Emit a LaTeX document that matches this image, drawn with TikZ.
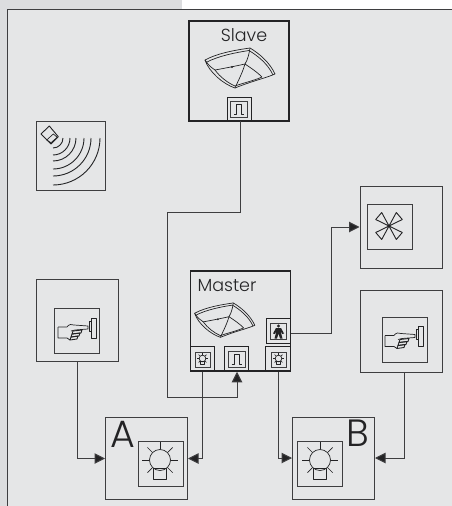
\documentclass[tikz,border=0pt]{standalone}
\usepackage{fontspec}
\setmainfont{Poppins Light}
\usepackage{xcolor}
\usetikzlibrary{arrows.meta,calc}
\definecolor{panelgrey}{RGB}{229,230,231}
\definecolor{stripgrey}{RGB}{220,221,223}
\definecolor{edgegrey}{RGB}{62,62,64}
\definecolor{inkdark}{RGB}{35,35,37}

\tikzset{
    outerbox/.style={draw=edgegrey,line width=1pt,minimum size=82pt,inner sep=0pt},
    unitbox/.style={draw=inkdark,line width=1.5pt,minimum size=100pt,inner sep=0pt},
    iconbox/.style={draw=edgegrey,line width=0.9pt,minimum size=45pt,inner sep=0pt},
    tinybox/.style={draw=inkdark,line width=0.9pt,minimum size=24.5pt,inner sep=0pt},
    wire/.style={draw=edgegrey,line width=1pt},
    tipped/.style={wire,-{Triangle[length=10.5pt,width=10.5pt,fill=inkdark]}},
    icon/.style={draw=inkdark,line width=0.7pt,line join=round},
    caption/.style={inkdark,inner sep=0pt,font=\fontsize{17.5}{18}\selectfont},
    letter/.style={inkdark,inner sep=0pt,font=\fontsize{38}{38}\selectfont},
}

% lamp with rays, centre and radius
\newcommand{\lampicon}[2]{%
    \begin{scope}[shift={(#1)},scale=#2]
        \draw[icon] (0,0) circle (1);
        \draw[icon] (-0.6,0.78) rectangle (0.6,1.8);
        \foreach \a in {0,45,135,180,225,315,270}
            \draw[icon] (\a:1.05) -- (\a:1.7);
    \end{scope}}
% pulse symbol
\newcommand{\pulseicon}[1]{%
    \begin{scope}[shift={(#1)}]
        \draw[draw=edgegrey,line width=1pt] (-8.5,-8) rectangle (8.5,8);
        \draw[icon,line width=0.9pt] (-5,5) -- (-2.5,5) -- (-2.5,-4.5) -- (2.5,-4.5) -- (2.5,5) -- (5,5);
    \end{scope}}
% ceiling sensor
\newcommand{\domeicon}[2]{%
    \begin{scope}[shift={(#1)},scale=#2]
        \draw[icon] (-33,-9) .. controls (-20,-16) and (-2,-19) .. (12,-21)
            .. controls (22,-15) and (32,-6) .. (37,5)
            .. controls (28,9) and (14,12) .. (-3,19)
            .. controls (-15,15) and (-29,3) .. (-33,-9) -- cycle;
        \draw[icon] (-32,-6.5) .. controls (-20,-13) and (-2,-16.5) .. (11,-18.5)
            .. controls (20,-13) and (30,-5) .. (35,6);
        \draw[icon] (-23,1) .. controls (-12,-1) and (-2,-3) .. (7,-5)
            .. controls (10,-10) and (11,-15) .. (12,-21);
        \draw[icon] (7,-5) .. controls (4,5) and (0,12) .. (-3,19);
        \draw[icon] (7,-5) .. controls (13,-1) and (19,3) .. (24,8);
        \draw[icon] (-33,-9) .. controls (-29,-3) and (-26,-1) .. (-23,1)
            .. controls (-18,8) and (-10,14) .. (-3,17) .. controls (5,14) and (15,12) .. (24,8);
        \fill[inkdark] (-6,-2) circle (1.2);
    \end{scope}}
% hand pressing wall switch
\newcommand{\handicon}[1]{%
    \begin{scope}[shift={(#1)}]
        \draw[icon] (-18,-3) -- (-9,-3) .. controls (-7,-6) and (-4,-6) .. (-2,-5)
            -- (12,-4) -- (12,-1) -- (-1,0) -- (-5,1);
        \draw[icon] (-18,-3) -- (-18,8) -- (-9,8) .. controls (-8,9) .. (-6,10);
        \draw[icon,line width=0.9pt] (-3,1) -- (6,0) -- (5,3) -- (-4,4) -- cycle;
        \draw[icon,line width=0.9pt] (-4,4) -- (4,3) -- (3,6) -- (-5,7) -- cycle;
        \draw[icon,line width=0.9pt] (-5,7) -- (2,6) -- (1,9) -- (-6,10) -- cycle;
        \draw[icon] (15,-12) rectangle (20.5,8);
        \draw[icon] (15,-9) -- (13,-9) -- (13,1) -- (15,1);
    \end{scope}}
% walking figure
\newcommand{\personicon}[1]{%
    \begin{scope}[shift={(#1)}]
        \draw[draw=edgegrey,line width=1pt] (-8,-8) rectangle (8,8);
        \fill[inkdark] (0,-5) circle (1.6);
        \fill[inkdark] (-2.5,-3) -- (2.5,-3) -- (5.5,2.5) -- (3.8,3) -- (2,0) -- (4,7.5) -- (1.5,7.5) -- (0,2.5) -- (-1.5,7.5) -- (-4,7.5) -- (-2,0) -- (-3.8,3) -- (-5.5,2.5) -- cycle;
    \end{scope}}
% fan blades
\newcommand{\fanicon}[1]{%
    \begin{scope}[shift={(#1)}]
        \foreach \sx/\sy in {1/1,1/-1,-1/1,-1/-1}
            \draw[icon,line width=0.9pt] (0,0) -- (\sx*7.3,\sy*13.5) -- (\sx*13.3,\sy*6.5) -- cycle;
        \fill[inkdark] (0,0) circle (1);
    \end{scope}}

\begin{document}
\begin{tikzpicture}[x=1pt,y=-1pt]
    \useasboundingbox (0,0) rectangle (452,506);
    % Background and panel
    \fill[white] (0,0) rectangle (452,506);
    \fill[stripgrey] (0,0) rectangle (182,9);
    \fill[stripgrey] (0,0) rectangle (7,506);
    \fill[panelgrey] (7,9) rectangle (452,506);
    \draw[edgegrey,line width=1pt] (7,506) -- (7,9) -- (452,9);

    % Slave unit
    \node[unitbox] (slave) at (239,71) {};
    \node[caption] (slavetext) at (244,35) {Slave};
    \domeicon{238,69}{1}
    \node[tinybox,minimum size=24pt] (slavepulse) at (239,109) {};
    \pulseicon{239,109}

    % Remote control
    \node[outerbox,minimum size=69pt] (remote) at (71,155.5) {};
    \draw[icon,line width=0.9pt] (41,134) -- (49.3,126) -- (58.3,136.7) -- (51,144) -- cycle;
    \draw[icon] (46.7,140) -- (53.3,134) -- (57.3,137.3) -- (51,142.7) -- cycle;
    \foreach \r in {10,17,23,31,38,47}
        \draw[icon,line width=0.9pt] (53,138+\r) arc[start angle=90,end angle=0,radius=\r];

    % Master unit
    \node[unitbox] (master) at (240.5,321) {};
    \node[caption] (mastertext) at (227,285.5) {Master};
    \domeicon{223,321}{0.86}
    \node[tinybox] (masterlampa) at (202.5,359) {};
    \draw[draw=edgegrey,line width=1pt] (195,352) rectangle (210,367);
    \lampicon{202.5,358.5}{3.3}
    \node[tinybox] (masterpulse) at (236.5,359) {};
    \pulseicon{236.5,359}
    \node[tinybox] (masterlampb) at (278,359) {};
    \draw[draw=edgegrey,line width=1pt] (271,352) rectangle (286,367);
    \lampicon{278.5,358.5}{3.3}
    \node[tinybox] (masterperson) at (278.5,331) {};
    \personicon{278.5,331}

    % Fan
    \node[outerbox] (fan) at (401,227) {};
    \node[iconbox] (fanicon) at (389.5,226.5) {};
    \fanicon{389,226}

    % Push buttons
    \node[outerbox] (buttonl) at (77.5,320) {};
    \node[iconbox] (handl) at (76.5,330.5) {};
    \handicon{76,330}
    \node[outerbox] (buttonr) at (401,331.5) {};
    \node[iconbox] (handr) at (404.5,339.5) {};
    \handicon{403,338.5}

    % Lamps
    \node[outerbox] (lampa) at (146.5,458.5) {};
    \node[iconbox] (lampaicon) at (160.5,463.5) {};
    \lampicon{160,460}{10.5}
    \node[letter] (lettera) at (122.5,434.5) {A};
    \node[outerbox] (lampb) at (333.5,458) {};
    \node[iconbox] (lampbicon) at (319.5,463.5) {};
    \lampicon{320,460}{10.5}
    \node[letter] (letterb) at (357.5,433.5) {B};

    % Connectors
    \coordinate (sbendr) at (240,212);
    \coordinate (sbendl) at (167,212);
    \coordinate (sbendb) at (167,397);
    \coordinate (pbend) at (237,397);
    \coordinate (fbend) at (331,333);
    \coordinate (rdrop) at (404,372);
    \draw[tipped] (slavepulse.south -| sbendr) -- (sbendr) -- (sbendl) -- (sbendb) -- (pbend) -- (master.south -| pbend);
    \draw[tipped] (masterperson.east |- fbend) -- (fbend) |- (fan.west);
    \draw[tipped] (buttonl.south) |- (lampa.west);
    \draw[tipped] (masterlampa.south) |- (lampa.east);
    \draw[tipped] (masterlampb.south) |- (lampb.west);
    \draw[tipped] (rdrop) |- (lampb.east);
\end{tikzpicture}
\end{document}
